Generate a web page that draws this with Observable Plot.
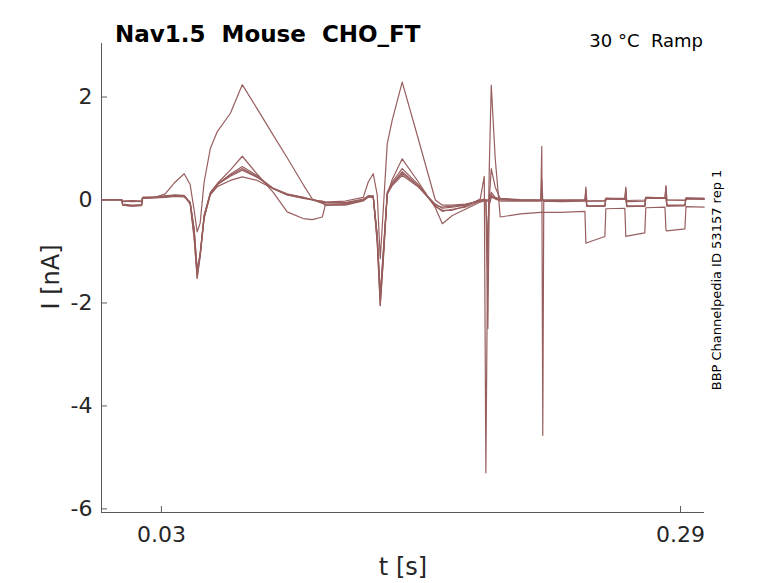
<!DOCTYPE html>
<html>
<head>
<meta charset="utf-8">
<script src="https://cdn.jsdelivr.net/npm/d3@7"></script>
<script src="https://cdn.jsdelivr.net/npm/@observablehq/plot@0.6"></script>
<style>
  html, body { margin: 0; padding: 0; background: #fff; }
  svg { display: block; }
</style>
</head>
<body>
<div id="chart"></div>
<script>
// time (s)
const t = [0.0000,0.0054,0.0101,0.0106,0.0154,0.0201,0.0206,0.0269,0.0319,0.0369,
  0.0414,0.0444,0.0464,0.0479,0.0494,0.0514,0.0545,0.0580,0.0645,0.0705,
  0.0780,0.0860,0.0930,0.1010,0.1056,0.1106,0.1121,0.1221,0.1311,0.1336,
  0.1361,0.1381,0.1396,0.1411,0.1431,0.1456,0.1506,0.1587,0.1672,0.1707,
  0.1757,0.1822,0.1897,0.1917,0.1925,0.1935,0.1942,0.1952,0.1972,0.1997,0.2098,
  0.2200,0.2205,0.2210,0.2215,0.2298,0.2421,0.2426,0.2431,0.2521,0.2526,0.2621,
  0.2626,0.2631,0.2721,0.2726,0.2822,0.2827,0.2832,0.2922,0.2927,0.3018];

// current (nA) per sweep
const sweep1 = [0.01,0.00,0.01,-0.10,-0.12,-0.11,0.04,0.05,0.12,0.35,
  0.51,0.30,-0.20,-0.62,-0.45,0.35,1.00,1.33,1.68,2.24,
  1.77,1.26,0.82,0.30,0.02,-0.06,-0.04,-0.02,0.05,0.35,
  0.51,0.10,-1.14,-0.20,1.09,1.55,2.29,1.18,0.00,-0.10,
  -0.10,-0.08,-0.02,0.00,0.00,-1.00,0.60,2.23,0.80,-0.33,-0.27,
  -0.24,-0.24,-0.24,-0.24,-0.24,-0.22,-0.84,-0.83,-0.71,-0.17,-0.16,
  -0.71,-0.70,-0.64,-0.15,-0.14,-0.59,-0.60,-0.56,-0.13,-0.14];
const sweep2 = [0.00,0.01,0.00,-0.08,-0.10,-0.09,0.03,0.05,0.07,0.09,
  0.09,-0.05,-0.70,-1.53,-1.10,-0.30,0.15,0.32,0.58,0.85,
  0.50,0.15,-0.23,-0.36,-0.38,-0.33,-0.10,-0.08,0.00,0.08,
  0.08,-0.80,-2.05,-1.20,0.10,0.40,0.80,0.35,-0.15,-0.46,
  -0.30,-0.18,-0.04,-0.02,-0.02,-0.02,-0.02,0.10,0.02,-0.02,-0.02,
  -0.02,1.04,-4.57,-0.02,-0.03,-0.02,0.25,-0.12,-0.12,0.02,0.02,
  0.25,-0.12,-0.12,0.03,0.03,0.28,-0.10,-0.10,0.02,0.01];
const sweep3 = [0.01,0.00,0.00,-0.02,-0.03,-0.02,0.05,0.06,0.08,0.10,
  0.08,-0.08,-0.75,-1.50,-1.05,-0.30,0.12,0.30,0.50,0.65,
  0.47,0.22,0.10,0.03,0.00,-0.02,-0.04,-0.05,0.02,0.08,
  0.07,-0.85,-2.05,-1.15,0.15,0.35,0.61,0.30,-0.12,-0.20,
  -0.20,-0.12,0.02,0.46,-5.30,-0.50,-0.10,0.05,0.03,0.00,-0.01,
  0.00,0.00,0.00,-0.01,-0.01,0.00,0.20,-0.02,-0.02,0.03,0.03,
  0.22,-0.03,-0.02,0.05,0.04,0.25,0.00,-0.01,0.03,0.03];
const sweep4 = [0.00,0.01,0.00,-0.02,-0.01,-0.02,0.05,0.05,0.07,0.08,
  0.07,-0.05,-0.60,-1.37,-1.10,-0.35,0.12,0.30,0.48,0.61,
  0.45,0.22,0.10,0.04,0.01,-0.03,-0.05,-0.06,0.00,0.07,
  0.06,-0.70,-1.89,-1.10,0.12,0.32,0.55,0.28,-0.10,-0.14,
  -0.12,-0.10,0.00,0.02,0.00,-2.50,0.00,0.61,0.25,0.03,0.01,
  0.00,0.42,0.00,0.00,0.00,0.00,0.02,-0.12,-0.12,0.02,0.01,
  0.02,-0.13,-0.12,0.04,0.03,0.03,-0.12,-0.11,0.03,0.02];
const sweep5 = [0.00,0.00,0.01,-0.10,-0.12,-0.10,0.04,0.05,0.06,0.08,
  0.07,-0.04,-0.60,-1.40,-1.05,-0.32,0.13,0.30,0.46,0.58,
  0.44,0.23,0.11,0.05,0.00,-0.06,-0.10,-0.10,-0.02,0.06,
  0.05,-0.70,-1.90,-1.05,0.12,0.30,0.52,0.26,-0.12,-0.22,
  -0.18,-0.14,-0.02,0.00,0.00,0.00,0.00,0.15,0.05,0.02,0.00,
  -0.01,-0.01,-0.01,-0.02,-0.02,-0.01,-0.01,-0.02,-0.01,0.03,0.02,
  0.02,-0.01,0.00,0.04,0.04,0.04,0.00,0.00,0.03,0.02];
const sweep6 = [0.01,0.01,0.00,-0.03,-0.02,-0.03,0.03,0.04,0.05,0.07,
  0.06,-0.05,-0.55,-1.35,-1.05,-0.35,0.10,0.26,0.38,0.45,
  0.38,0.22,0.12,0.05,0.01,-0.05,-0.08,-0.08,-0.01,0.06,
  0.05,-0.68,-1.85,-1.00,0.12,0.28,0.48,0.25,-0.08,-0.16,
  -0.14,-0.10,0.00,0.01,0.00,0.00,0.00,0.08,0.03,0.01,0.00,
  0.00,0.00,0.00,0.00,0.00,0.00,0.00,-0.12,-0.11,0.03,0.02,
  0.02,-0.12,-0.12,0.05,0.04,0.04,-0.11,-0.11,0.04,0.03];

const xTicks = [0.03, 0.29];
const yTicks = [-6, -4, -2, 0, 2];
const xDomain = [0, 0.302];
const yDomain = [-6.07, 3.04];

const sweeps = [sweep1, sweep2, sweep3, sweep4, sweep5, sweep6];
const data = sweeps.flatMap((s, k) => s.map((v, i) => ({t: t[i], i: v, sweep: k})));

const W = 778, H = 583, mL = 101, mR = 74, mT = 43, mB = 71;
const axisColor = "#5a5a5a";
const traceColor = "#985e5e";

const chart = Plot.plot({
  width: W, height: H,
  marginLeft: mL, marginRight: mR, marginTop: mT, marginBottom: mB,
  x: {domain: xDomain},
  y: {domain: yDomain},
  style: {fontFamily: "DejaVu Sans", fontSize: "22px", color: "#262626", background: "#fff"},
  marks: [
    Plot.ruleX([xDomain[0]], {stroke: axisColor, strokeWidth: 1}),
    Plot.ruleY([yDomain[0]], {stroke: axisColor, strokeWidth: 1}),
    Plot.tickX(xTicks, {x: d => d, stroke: axisColor, insetTop: H - mT - mB - 6}),
    Plot.tickY(yTicks, {y: d => d, stroke: axisColor, insetRight: W - mL - mR - 6}),
    Plot.axisX({ticks: xTicks, tickSize: 0, tickPadding: 14, tickFormat: d => d.toFixed(2), label: null, fontSize: 22}),
    Plot.axisY({ticks: yTicks, tickSize: 0, tickPadding: 9, tickFormat: d => String(d), label: null, fontSize: 22}),
    Plot.line(data, {x: "t", y: "i", z: "sweep", stroke: traceColor, strokeWidth: 1.2})
  ]
});

document.getElementById("chart").appendChild(chart);
const svg = d3.select(chart);

svg.append("text")
  .attr("x", 115).attr("y", 42)
  .attr("text-anchor", "start")
  .attr("font-family", "DejaVu Sans").attr("font-weight", "bold")
  .attr("font-size", 23).attr("fill", "#000")
  .style("white-space", "pre")
  .text("Nav1.5  Mouse  CHO_FT");

svg.append("text")
  .attr("x", 703).attr("y", 47)
  .attr("text-anchor", "end")
  .attr("font-family", "DejaVu Sans")
  .attr("font-size", 18).attr("fill", "#000")
  .style("white-space", "pre")
  .text("30 °C  Ramp");

svg.append("text")
  .attr("transform", "translate(721,280) rotate(-90)")
  .attr("text-anchor", "middle")
  .attr("font-family", "DejaVu Sans")
  .attr("font-size", 13).attr("fill", "#000")
  .text("BBP Channelpedia ID 53157 rep 1");

svg.append("text")
  .attr("x", 403).attr("y", 575)
  .attr("text-anchor", "middle")
  .attr("font-family", "DejaVu Sans")
  .attr("font-size", 24).attr("fill", "#262626")
  .text("t [s]");

svg.append("text")
  .attr("transform", "translate(59,277) rotate(-90)")
  .attr("text-anchor", "middle")
  .attr("font-family", "DejaVu Sans")
  .attr("font-size", 24).attr("fill", "#262626")
  .style("white-space", "pre")
  .text("I [nA]");
</script>
</body>
</html>
